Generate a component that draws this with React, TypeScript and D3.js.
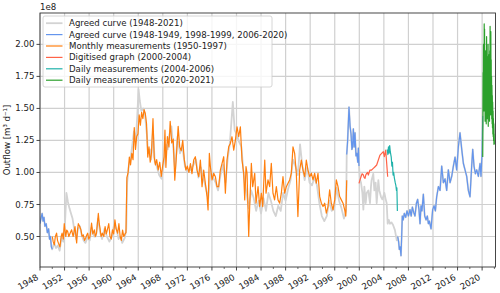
import React from 'react';
import * as d3 from 'd3';

// outflow in units of 1e8 m3/d, keyed by decimal year
const agreedCurve: [number, number][] = [
  [1948.0, 0.6], [1948.15, 0.64], [1948.35, 0.68], [1948.5, 0.62], [1948.65, 0.65], [1948.8, 0.58],
  [1949.0, 0.6], [1949.2, 0.53], [1949.4, 0.56], [1949.55, 0.48], [1949.7, 0.5], [1949.85, 0.42], [1950.0, 0.4],
  [1950.3, 0.45], [1950.6, 0.41], [1950.9, 0.43], [1951.2, 0.39], [1951.5, 0.49], [1951.8, 0.46], [1952.05, 0.58],
  [1952.3, 0.84], [1952.55, 0.77], [1952.8, 0.72], [1953.05, 0.68], [1953.3, 0.64], [1953.6, 0.55], [1953.9, 0.48],
  [1954.2, 0.56], [1954.5, 0.58], [1954.8, 0.51], [1955.1, 0.47], [1955.4, 0.45], [1955.8, 0.5], [1956.1, 0.47],
  [1956.4, 0.57], [1956.8, 0.5], [1957.1, 0.5], [1957.45, 0.64], [1957.8, 0.53], [1958.1, 0.48], [1958.5, 0.56],
  [1958.9, 0.5], [1959.3, 0.46], [1959.7, 0.5], [1960.1, 0.6], [1960.5, 0.55], [1960.8, 0.48], [1961.1, 0.5],
  [1961.4, 0.45], [1961.8, 0.49], [1962.05, 0.56], [1962.2, 0.92], [1962.45, 1.05], [1962.7, 1.1], [1963.0, 1.2],
  [1963.3, 1.32], [1963.6, 1.25], [1963.85, 1.45], [1964.05, 1.65], [1964.25, 1.56], [1964.5, 1.48], [1964.8, 1.5],
  [1965.1, 1.45], [1965.4, 1.3], [1965.6, 1.15], [1965.9, 1.18], [1966.1, 1.1], [1966.4, 1.32], [1966.7, 1.08],
  [1967.0, 1.05], [1967.4, 0.98], [1967.8, 0.95], [1968.2, 1.08], [1968.5, 1.22], [1968.8, 1.18], [1969.1, 1.3],
  [1969.4, 1.36], [1969.7, 1.2], [1970.0, 1.02], [1970.4, 1.28], [1970.8, 1.15], [1971.2, 1.2], [1971.6, 1.05],
  [1972.0, 1.0], [1972.5, 1.02], [1973.0, 1.06], [1973.4, 1.1], [1973.8, 0.96], [1974.2, 1.04], [1974.6, 0.96],
  [1975.0, 0.88], [1975.4, 0.8], [1975.8, 1.02], [1976.2, 0.96], [1976.6, 0.92], [1977.0, 0.86], [1977.4, 0.98],
  [1977.8, 1.06], [1978.2, 0.92], [1978.6, 1.12], [1978.9, 1.22], [1979.15, 1.38], [1979.4, 1.55], [1979.7, 1.33],
  [1980.0, 1.3], [1980.4, 1.24], [1980.8, 1.2], [1981.1, 1.02], [1981.4, 0.9], [1981.7, 0.82], [1982.0, 0.72],
  [1982.4, 0.86], [1982.8, 0.8], [1983.2, 0.7], [1983.6, 0.78], [1984.0, 0.68], [1984.4, 0.8], [1984.8, 0.7],
  [1985.2, 0.84], [1985.6, 0.78], [1986.0, 0.7], [1986.4, 0.66], [1986.8, 0.74], [1987.2, 0.7], [1987.6, 0.84],
  [1988.0, 0.78], [1988.4, 0.87], [1988.8, 0.94], [1989.2, 1.1], [1989.6, 1.05], [1990.0, 0.98], [1990.35, 1.22],
  [1990.7, 1.06], [1991.1, 0.94], [1991.5, 1.04], [1991.9, 0.92], [1992.3, 0.9], [1992.7, 0.96], [1993.1, 0.9],
  [1993.5, 0.76], [1993.9, 0.66], [1994.3, 0.62], [1994.7, 0.66], [1995.1, 0.78], [1995.5, 0.7], [1995.9, 0.72],
  [1996.3, 0.88], [1996.7, 0.78], [1997.1, 0.72], [1997.5, 0.64], [1997.85, 0.7],
  [1997.95, 1.14], [1998.1, 1.25], [1998.32, 1.51], [1998.5, 1.36], [1998.65, 1.3], [1998.8, 1.18], [1998.9, 1.2],
  [1999.03, 1.34], [1999.17, 1.2], [1999.3, 1.31], [1999.46, 1.13], [1999.6, 1.15], [1999.75, 1.08], [1999.85, 1.19],
  [1999.95, 1.05], [2000.1, 0.95], [2000.28, 0.92], [2000.5, 0.84], [2000.66, 0.71], [2000.82, 0.89], [2001.04, 0.76],
  [2001.2, 0.84], [2001.47, 0.86], [2001.74, 0.76], [2001.9, 0.89], [2002.0, 0.94], [2002.28, 0.99], [2002.45, 0.86],
  [2002.66, 0.92], [2002.83, 0.76], [2003.1, 0.94], [2003.26, 0.86], [2003.53, 0.81], [2003.75, 0.79], [2004.08, 0.84],
  [2004.3, 0.79], [2004.46, 0.76], [2004.62, 0.6], [2004.8, 0.63], [2005.0, 0.6], [2005.25, 0.61], [2005.5, 0.59],
  [2005.8, 0.55], [2006.1, 0.47], [2006.25, 0.5], [2006.4, 0.46], [2006.52, 0.4], [2006.65, 0.42], [2006.79, 0.35],
  [2006.9, 0.5], [2007.0, 0.66], [2007.15, 0.63], [2007.33, 0.68], [2007.55, 0.65], [2007.77, 0.7], [2008.0, 0.66],
  [2008.25, 0.71], [2008.45, 0.66], [2008.64, 0.73], [2008.85, 0.69], [2009.07, 0.66], [2009.3, 0.76], [2009.5, 0.79],
  [2009.72, 0.71], [2009.89, 0.6], [2010.05, 0.74], [2010.2, 0.7], [2010.43, 0.83], [2010.65, 0.66], [2010.87, 0.63],
  [2011.08, 0.66], [2011.25, 0.6], [2011.41, 0.62], [2011.68, 0.56], [2011.95, 0.71], [2012.17, 0.74], [2012.39, 0.7],
  [2012.6, 0.81], [2012.88, 0.89], [2013.15, 0.86], [2013.42, 1.05], [2013.69, 0.92], [2013.96, 0.95], [2014.23, 0.86],
  [2014.5, 1.02], [2014.78, 0.92], [2015.05, 0.97], [2015.32, 1.05], [2015.59, 1.12], [2015.86, 1.02], [2016.13, 1.2],
  [2016.4, 1.31], [2016.68, 1.18], [2016.95, 1.07], [2017.22, 1.02], [2017.49, 0.97], [2017.76, 0.86], [2018.03, 0.81],
  [2018.3, 1.05], [2018.47, 1.18], [2018.68, 1.05], [2018.9, 0.99], [2019.12, 1.02], [2019.39, 0.97], [2019.66, 1.07],
  [2019.82, 0.97], [2019.99, 1.15], [2020.1, 1.44], [2020.3, 1.7], [2020.6, 1.75], [2020.9, 1.72], [2021.2, 1.7],
  [2021.5, 1.65], [2021.8, 1.4], [2022.0, 1.3],
];

// year spans in which the agreed curve is highlighted in blue
const agreedOnlySpans: [number, number][] = [[1948, 1950.01], [1997.9, 2000.0], [2006.2, 2020.15]];

const monthlyMeasurements: [number, number][] = [
  [1950.0, 0.5], [1950.15, 0.46], [1950.33, 0.435], [1950.5, 0.5], [1950.7, 0.526], [1950.85, 0.47], [1951.0, 0.448],
  [1951.25, 0.42], [1951.45, 0.5], [1951.6, 0.526], [1951.8, 0.48], [1951.95, 0.6], [1952.2, 0.5], [1952.35, 0.55],
  [1952.5, 0.54], [1952.7, 0.5], [1952.9, 0.526], [1953.15, 0.552], [1953.4, 0.5], [1953.55, 0.54], [1953.7, 0.578],
  [1953.85, 0.5], [1953.97, 0.45], [1954.1, 0.55], [1954.24, 0.6], [1954.45, 0.58], [1954.67, 0.552], [1954.85, 0.5],
  [1955.05, 0.513], [1955.25, 0.47], [1955.43, 0.487], [1955.6, 0.51], [1955.76, 0.526], [1955.95, 0.48], [1956.14, 0.5],
  [1956.4, 0.604], [1956.6, 0.52], [1956.85, 0.552], [1957.0, 0.5], [1957.2, 0.526], [1957.5, 0.68], [1957.65, 0.6],
  [1957.77, 0.565], [1957.95, 0.5], [1958.15, 0.526], [1958.4, 0.5], [1958.6, 0.578], [1958.8, 0.52], [1958.97, 0.552],
  [1959.2, 0.6], [1959.4, 0.5], [1959.6, 0.48], [1959.8, 0.552], [1960.0, 0.52], [1960.2, 0.63], [1960.4, 0.56],
  [1960.65, 0.526], [1960.85, 0.6], [1961.05, 0.5], [1961.25, 0.47], [1961.45, 0.55], [1961.65, 0.5], [1961.85, 0.52],
  [1962.0, 0.53], [1962.15, 0.96], [1962.35, 1.0], [1962.55, 1.12], [1962.75, 1.06], [1962.95, 1.15], [1963.15, 1.1],
  [1963.35, 1.35], [1963.55, 1.18], [1963.75, 1.28], [1963.95, 1.3], [1964.15, 1.45], [1964.35, 1.37], [1964.55, 1.47],
  [1964.75, 1.42], [1964.95, 1.49], [1965.15, 1.46], [1965.35, 1.38], [1965.55, 1.12], [1965.75, 1.2], [1965.95, 1.08],
  [1966.15, 1.15], [1966.4, 1.42], [1966.6, 1.12], [1966.8, 1.06], [1967.0, 1.1], [1967.25, 1.02], [1967.5, 1.08],
  [1967.75, 0.97], [1968.0, 1.06], [1968.2, 1.12], [1968.35, 1.33], [1968.5, 1.04], [1968.75, 1.28], [1969.0, 1.2],
  [1969.2, 1.4], [1969.45, 1.23], [1969.7, 1.26], [1969.95, 0.94], [1970.2, 1.12], [1970.5, 1.36], [1970.75, 1.2],
  [1971.0, 1.17], [1971.25, 1.25], [1971.5, 1.1], [1971.75, 1.02], [1972.0, 1.05], [1972.25, 1.0], [1972.5, 1.07],
  [1972.75, 0.99], [1973.03, 1.097], [1973.3, 1.123], [1973.57, 1.019], [1973.85, 0.967], [1974.12, 1.097],
  [1974.39, 0.889], [1974.66, 1.019], [1974.93, 0.916], [1975.2, 0.812], [1975.37, 0.708], [1975.58, 1.149],
  [1975.75, 1.045], [1976.02, 0.942], [1976.29, 0.994], [1976.56, 0.967], [1976.83, 0.889], [1977.1, 0.889],
  [1977.37, 1.019], [1977.65, 1.071], [1977.92, 1.123], [1978.19, 0.838], [1978.46, 1.097], [1978.73, 1.201],
  [1979.0, 1.227], [1979.27, 1.279], [1979.55, 1.175], [1979.82, 1.253], [1980.09, 1.357], [1980.36, 1.279],
  [1980.63, 1.357], [1980.9, 1.097], [1981.17, 0.994], [1981.34, 0.786], [1981.55, 1.045], [1981.72, 0.994],
  [1981.99, 0.5], [1982.15, 0.734], [1982.42, 1.071], [1982.64, 0.889], [1982.97, 0.994], [1983.18, 0.76],
  [1983.51, 0.889], [1983.78, 0.734], [1984.05, 0.838], [1984.27, 0.734], [1984.6, 1.097], [1984.81, 0.838],
  [1985.13, 0.942], [1985.4, 0.889], [1985.67, 1.071], [1985.94, 0.838], [1986.2, 0.786], [1986.49, 0.889],
  [1986.76, 0.786], [1987.03, 0.76], [1987.3, 0.838], [1987.57, 0.967], [1987.84, 0.838], [1988.12, 0.889],
  [1988.39, 0.916], [1988.66, 0.942], [1988.93, 0.994], [1989.2, 1.2], [1989.47, 1.149], [1989.74, 0.994],
  [1990.0, 0.656], [1990.29, 1.019], [1990.56, 1.097], [1990.83, 1.019], [1991.1, 0.967], [1991.37, 1.097],
  [1991.64, 1.019], [1991.92, 0.967], [1992.19, 0.994], [1992.46, 0.942], [1992.73, 0.994], [1993.0, 0.916],
  [1993.27, 0.994], [1993.55, 0.812], [1993.82, 0.76], [1994.09, 0.734], [1994.36, 0.76], [1994.63, 0.682],
  [1994.9, 0.734], [1995.17, 0.864], [1995.44, 0.76], [1995.72, 0.708], [1995.99, 0.786], [1996.26, 0.942],
  [1996.53, 0.889], [1996.8, 0.812], [1997.07, 0.786], [1997.35, 0.76], [1997.62, 0.708], [1997.8, 0.66], [1997.95, 0.94],
];

const digitisedGraph: [number, number][] = [
  [1999.95, 0.915], [2000.1, 0.94], [2000.28, 0.967], [2000.45, 0.99], [2000.66, 0.98], [2000.8, 0.96], [2000.93, 0.954],
  [2001.05, 0.98], [2001.2, 0.993], [2001.35, 1.0], [2001.47, 0.98], [2001.6, 1.0], [2001.74, 1.019], [2002.0, 1.019],
  [2002.28, 1.032], [2002.56, 1.045], [2002.83, 1.058], [2003.1, 1.097], [2003.37, 1.136], [2003.64, 1.149],
  [2003.91, 1.162], [2004.08, 1.123], [2004.3, 1.175], [2004.46, 1.071], [2004.62, 0.967],
];

const daily2004to2006: [number, number][] = [
  [2004.55, 1.18], [2004.65, 1.14], [2004.75, 1.2], [2004.85, 1.15], [2004.95, 1.21], [2005.05, 1.16], [2005.2, 1.12],
  [2005.3, 1.05], [2005.4, 1.08], [2005.5, 0.98], [2005.6, 1.0], [2005.7, 0.96], [2005.85, 0.92], [2005.95, 0.9],
  [2006.05, 0.86], [2006.12, 0.88], [2006.2, 0.7],
];

const daily2020to2021: [number, number][] = [
  [2020.1, 1.12], [2020.13, 1.42], [2020.16, 1.78], [2020.19, 1.55], [2020.22, 2.0], [2020.25, 1.65], [2020.28, 1.85],
  [2020.31, 1.48], [2020.34, 2.16], [2020.37, 1.72], [2020.4, 2.12], [2020.43, 1.6], [2020.46, 1.9], [2020.49, 1.4],
  [2020.52, 1.75], [2020.55, 1.95], [2020.58, 1.5], [2020.61, 1.88], [2020.64, 1.62], [2020.67, 1.38], [2020.7, 1.8],
  [2020.73, 2.06], [2020.76, 1.55], [2020.79, 1.72], [2020.82, 1.42], [2020.85, 1.9], [2020.88, 1.6], [2020.91, 1.85],
  [2020.94, 1.45], [2020.97, 2.0], [2021.0, 1.36], [2021.03, 1.7], [2021.06, 1.92], [2021.09, 1.58], [2021.12, 1.82],
  [2021.15, 1.5], [2021.18, 1.78], [2021.21, 1.4], [2021.24, 1.95], [2021.27, 1.6], [2021.3, 2.14], [2021.33, 1.55],
  [2021.36, 1.82], [2021.39, 1.45], [2021.42, 2.1], [2021.45, 1.65], [2021.48, 1.88], [2021.51, 1.5], [2021.54, 1.75],
  [2021.57, 1.42], [2021.6, 1.68], [2021.63, 1.38], [2021.66, 1.6], [2021.69, 1.35], [2021.72, 1.55], [2021.75, 1.3],
  [2021.78, 1.48], [2021.81, 1.28], [2021.84, 1.42], [2021.87, 1.25], [2021.9, 1.38], [2021.93, 1.22], [2021.96, 1.3],
  [2021.99, 1.22],
];

const legendLabels = [
  'Agreed curve (1948-2021)',
  'Agreed curve (1948-1949, 1998-1999, 2006-2020)',
  'Monthly measurements (1950-1997)',
  'Digitised graph (2000-2004)',
  'Daily measurements (2004-2006)',
  'Daily measurements (2020-2021)',
];
const legendColors = ['#d3d3d3', '#6495ed', '#ff7f0e', '#ff6347', '#20b2aa', '#2ca02c'];

const yTicks = [0.5, 0.75, 1.0, 1.25, 1.5, 1.75, 2.0];
const xTickYears = d3.range(1948, 2021, 4);
const xMinorYears = d3.range(1950, 2023, 4);

const W = 500;
const H = 293;
const margin = { top: 13, right: 4.5, bottom: 26, left: 40 };
const font = 'DejaVu Sans, sans-serif';
const fs = 8.6;

export default function App() {
  const x = d3.scaleLinear().domain([1948, 2022.18]).range([margin.left, W - margin.right]);
  const y = d3.scaleLinear().domain([0.262, 2.245]).range([H - margin.bottom, margin.top]);
  const line = d3.line<[number, number]>().x(d => x(d[0])).y(d => y(d[1]));
  const [x0, x1] = x.range();
  const [yb, yt] = y.range();

  const blueSegments = agreedOnlySpans.map(([a, b]) => agreedCurve.filter(d => d[0] >= a && d[0] <= b));

  return (
    <svg width={W} height={H} style={{ position: 'absolute', left: 0, top: 0, background: '#fff' }}>
      <defs>
        <clipPath id="plot">
          <rect x={x0} y={yt} width={x1 - x0} height={yb - yt} />
        </clipPath>
      </defs>
      {xTickYears.map(t => (
        <line key={'gx' + t} x1={x(t)} x2={x(t)} y1={yt} y2={yb} stroke="#d0d0d0" strokeWidth={1.2} />
      ))}
      {yTicks.map(t => (
        <line key={'gy' + t} x1={x0} x2={x1} y1={y(t)} y2={y(t)} stroke="#d0d0d0" strokeWidth={1.2} />
      ))}
      <g clipPath="url(#plot)" fill="none" strokeLinejoin="round">
        <path d={line(agreedCurve) ?? ''} stroke="#d3d3d3" strokeWidth={1.8} />
        {blueSegments.map((s, i) => (
          <path key={i} d={line(s) ?? ''} stroke="#6495ed" strokeWidth={1.2} />
        ))}
        <path d={line(monthlyMeasurements) ?? ''} stroke="#ff7f0e" strokeWidth={1.2} />
        <path d={line(digitisedGraph) ?? ''} stroke="#ff6347" strokeWidth={1.2} />
        <path d={line(daily2004to2006) ?? ''} stroke="#20b2aa" strokeWidth={1.2} />
        <path d={line(daily2020to2021) ?? ''} stroke="#2ca02c" strokeWidth={1.2} />
      </g>
      <rect x={x0} y={yt} width={x1 - x0} height={yb - yt} fill="none" stroke="#333" strokeWidth={0.9} />
      {yTicks.map(t => (
        <g key={'ty' + t}>
          <line x1={x0 - 3.5} x2={x0} y1={y(t)} y2={y(t)} stroke="#333" strokeWidth={0.9} />
          <text x={x0 - 5.5} y={y(t)} dy="0.35em" textAnchor="end" fontFamily={font} fontSize={fs} fill="#222">
            {t.toFixed(2)}
          </text>
        </g>
      ))}
      {xTickYears.map(t => (
        <g key={'tx' + t}>
          <line x1={x(t)} x2={x(t)} y1={yb} y2={yb + 3.5} stroke="#333" strokeWidth={0.9} />
          <text
            transform={`translate(${x(t) - 1},${yb + 12}) rotate(-30)`}
            textAnchor="end"
            fontFamily={font}
            fontSize={fs}
            fill="#222"
          >
            {t}
          </text>
        </g>
      ))}
      {xMinorYears.filter(t => x(t) <= x1).map(t => (
        <line key={'mx' + t} x1={x(t)} x2={x(t)} y1={yb} y2={yb + 2} stroke="#333" strokeWidth={0.7} />
      ))}
      <text x={x0} y={10} fontFamily={font} fontSize={fs} fill="#222">1e8</text>
      <text
        transform={`translate(9.5,${(yt + yb) / 2}) rotate(-90)`}
        textAnchor="middle"
        fontFamily={font}
        fontSize={fs}
        fill="#222"
      >
        Outflow [m³ d⁻¹]
      </text>
      <g>
        <rect x={43} y={16} width={229} height={71} rx={2} fill="#fff" fillOpacity={0.8} stroke="#ccc" strokeWidth={0.8} />
        {legendLabels.map((l, i) => {
          const ly = 23.2 + i * 11.4;
          return (
            <g key={l}>
              <line x1={46} x2={62.5} y1={ly} y2={ly} stroke={legendColors[i]} strokeWidth={i === 0 ? 1.8 : 1.2} />
              <text x={69} y={ly} dy="0.35em" fontFamily={font} fontSize={fs} fill="#222">{l}</text>
            </g>
          );
        })}
      </g>
    </svg>
  );
}
